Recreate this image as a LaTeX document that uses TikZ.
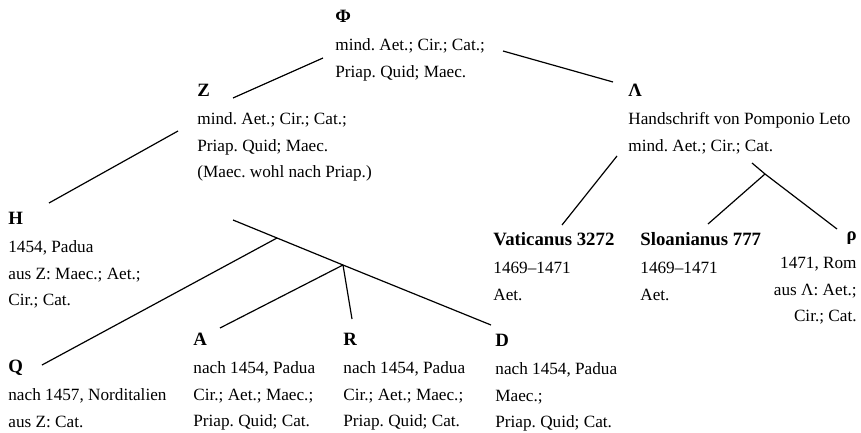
\documentclass[tikz,border=0pt]{standalone}
\usepackage{fontspec}
\setmainfont{Liberation Serif}
\usepackage{tikz}
\frenchspacing
\tikzstyle{stemma} = [x = 0.5pt, y = -0.5pt]
\tikzstyle{witness} = [anchor = north west, align = left, inner sep = 0pt, font = \fontsize{8.6}{13.25}\selectfont]
\tikzstyle{witnessRight} = [witness, anchor = north east, align = right]
\tikzstyle{branch} = [color=black, line width = 0.6pt]
\newcommand{\siglum}[1]{{\rule{0pt}{8pt}\fontsize{9.4}{10}\selectfont\bfseries #1}}
\newcommand{\witness}[5]{\node [witness] (#1) at (#2, #3 - 16) {\siglum{#4}\\[1pt] #5};}
\newcommand{\witnessRight}[5]{\node [witnessRight] (#1) at (#2, #3 - 16) {\siglum{#4}\\[1pt] #5};}

\begin{document}
\begin{tikzpicture}[stemma]
        \useasboundingbox (0,0) rectangle (861,433);
        % Handschriften
        \witness{phi}{335}{22}{Φ}{mind. Aet.; Cir.; Cat.;\\ Priap. Quid; Maec.}
        \witness{z}{197}{96}{Z}{mind. Aet.; Cir.; Cat.;\\ Priap. Quid; Maec.\\ (Maec. wohl nach Priap.)}
        \witness{lambda}{628}{96}{Λ}{Handschrift von Pomponio Leto\\ mind. Aet.; Cir.; Cat.}
        \witness{h}{8}{224}{H}{1454, Padua\\ aus Z: Maec.; Aet.;\\ Cir.; Cat.}
        \witness{vat}{493}{245}{Vaticanus 3272}{1469--1471\\ Aet.}
        \witness{sloan}{640}{245}{Sloanianus 777}{1469--1471\\ Aet.}
        \witnessRight{rho}{857}{240}{ρ}{1471, Rom\\ aus Λ: Aet.;\\ Cir.; Cat.}
        \witness{a}{193}{345}{A}{nach 1454, Padua\\ Cir.; Aet.; Maec.;\\ Priap. Quid; Cat.}
        \witness{r}{343}{345}{R}{nach 1454, Padua\\ Cir.; Aet.; Maec.;\\ Priap. Quid; Cat.}
        \witness{d}{495}{346}{D}{nach 1454, Padua\\ Maec.;\\ Priap. Quid; Cat.}
        \witness{q}{8}{372}{Q}{nach 1457, Norditalien\\ aus Z: Cat.}
        % Enden und Knoten der Linien
        \coordinate (phiLeft) at (323,58);
        \coordinate (phiRight) at (503,51);
        \coordinate (zTop) at (233,98);
        \coordinate (zLeft) at (178,131);
        \coordinate (zBottom) at (233,220);
        \coordinate (lambdaTop) at (613,82);
        \coordinate (lambdaLeft) at (617,156);
        \coordinate (lambdaRight) at (752,163);
        \coordinate (hTop) at (49,203);
        \coordinate (vatTop) at (562,225);
        \coordinate (sloanTop) at (708,224);
        \coordinate (rhoTop) at (837,229);
        \coordinate (aTop) at (220,328);
        \coordinate (rTop) at (352,319);
        \coordinate (dTop) at (491,325);
        \coordinate (qTop) at (42,365);
        \coordinate (forkQ) at (277,238);
        \coordinate (forkAR) at (343,265);
        \coordinate (forkRho) at (765,174);
        % Linien
        \draw [branch] (phiLeft) -- (zTop);
        \draw [branch] (phiRight) -- (lambdaTop);
        \draw [branch] (zLeft) -- (hTop);
        \draw [branch] (zBottom) -- (forkQ) -- (forkAR) -- (dTop);
        \draw [branch] (forkQ) -- (qTop);
        \draw [branch] (forkAR) -- (aTop);
        \draw [branch] (forkAR) -- (rTop);
        \draw [branch] (lambdaLeft) -- (vatTop);
        \draw [branch] (lambdaRight) -- (forkRho) -- (rhoTop);
        \draw [branch] (forkRho) -- (sloanTop);
\end{tikzpicture}
\end{document}
